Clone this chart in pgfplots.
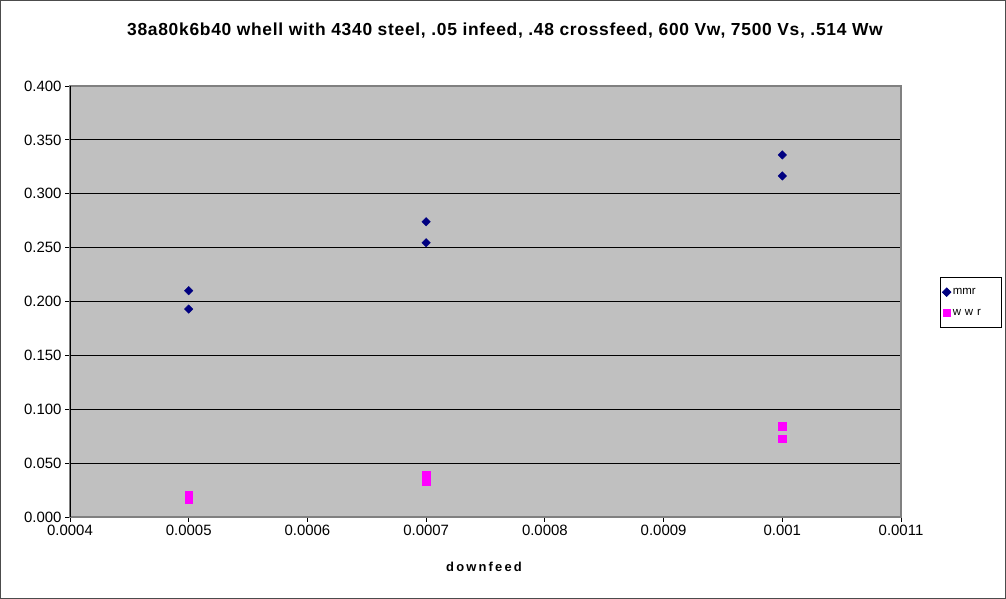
\documentclass[border=0pt]{standalone}
\usepackage{pgfplots}
\pgfplotsset{compat=1.18}
\usepackage{fontspec}
\setmainfont{Liberation Sans}
\newfontfamily\titlefont[LetterSpace=4]{Liberation Sans}
\definecolor{plotgray}{HTML}{C0C0C0}
\definecolor{mmrc}{HTML}{000080}
\definecolor{wwrc}{HTML}{FF00FF}
\begin{document}
\begin{tikzpicture}[x=1bp,y=1bp]
\path[use as bounding box] (0,0) rectangle (1006,599);
\draw[black!70, line width=0.8bp] (0.5,0.5) rectangle (1005.5,598.5);
\begin{axis}[
  at={(70bp,82bp)}, anchor=south west,
  scale only axis, width=831bp, height=431bp,
  xmin=0.0004, xmax=0.0011, ymin=0, ymax=0.4,
  xtick={0.0004,0.0005,0.0006,0.0007,0.0008,0.0009,0.001,0.0011},
  xticklabels={0.0004,0.0005,0.0006,0.0007,0.0008,0.0009,0.001,0.0011},
  ytick={0,0.05,0.1,0.15,0.2,0.25,0.3,0.35,0.4},
  yticklabel style={/pgf/number format/fixed,/pgf/number format/fixed zerofill,/pgf/number format/precision=3,/pgf/number format/assume math mode=true},
  scaled y ticks=false, scaled x ticks=false,
  tick label style={font=\fontsize{15}{17}\selectfont},
  tick align=outside, tick pos=left,
  major tick length=5bp,
  tick style={black, line width=0.8bp},
  ymajorgrids, major grid style={black, line width=0.8bp},
  axis background/.style={fill=plotgray},
  axis line style={gray, line width=1.2bp},
  legend style={at={(1,0.5)}, anchor=west, xshift=39bp, yshift=-1bp, draw=black, line width=0.8bp,
    font=\fontsize{11.5}{13}\selectfont, row sep=9bp, inner xsep=2bp, inner ysep=9bp,
    nodes={text width=45bp}},
  legend cell align=left,
]
\addplot[only marks, mark=square*, mark size=3bp, mark options={fill=mmrc, draw=mmrc, rotate=45}] coordinates {
(0.0005,0.210) (0.0005,0.193)
(0.0007,0.274) (0.0007,0.2545)
(0.001,0.336) (0.001,0.3165)
};
\addlegendentry{mmr}
\addplot[only marks, mark=square*, mark size=3.7bp, mark options={fill=wwrc, draw=wwrc}] coordinates {
(0.0005,0.0205) (0.0005,0.0160)
(0.0007,0.0390) (0.0007,0.0330)
(0.001,0.0842) (0.001,0.0724)
};
\addlegendentry{w w r}
\draw[black, line width=0.8bp] (rel axis cs:0,1) -- (rel axis cs:0,0) -- (rel axis cs:1,0);
\end{axis}
\node[font=\titlefont\bfseries\fontsize{17.5}{20}\selectfont] at (505,568) {38a80k6b40 whell with 4340 steel, .05 infeed, .48 crossfeed, 600 Vw, 7500 Vs, .514 Ww};
\node[font=\bfseries\fontsize{13}{15}\selectfont] at (484,32) {d\,o\,w\,n\,f\,e\,e\,d};
\end{tikzpicture}
\end{document}
